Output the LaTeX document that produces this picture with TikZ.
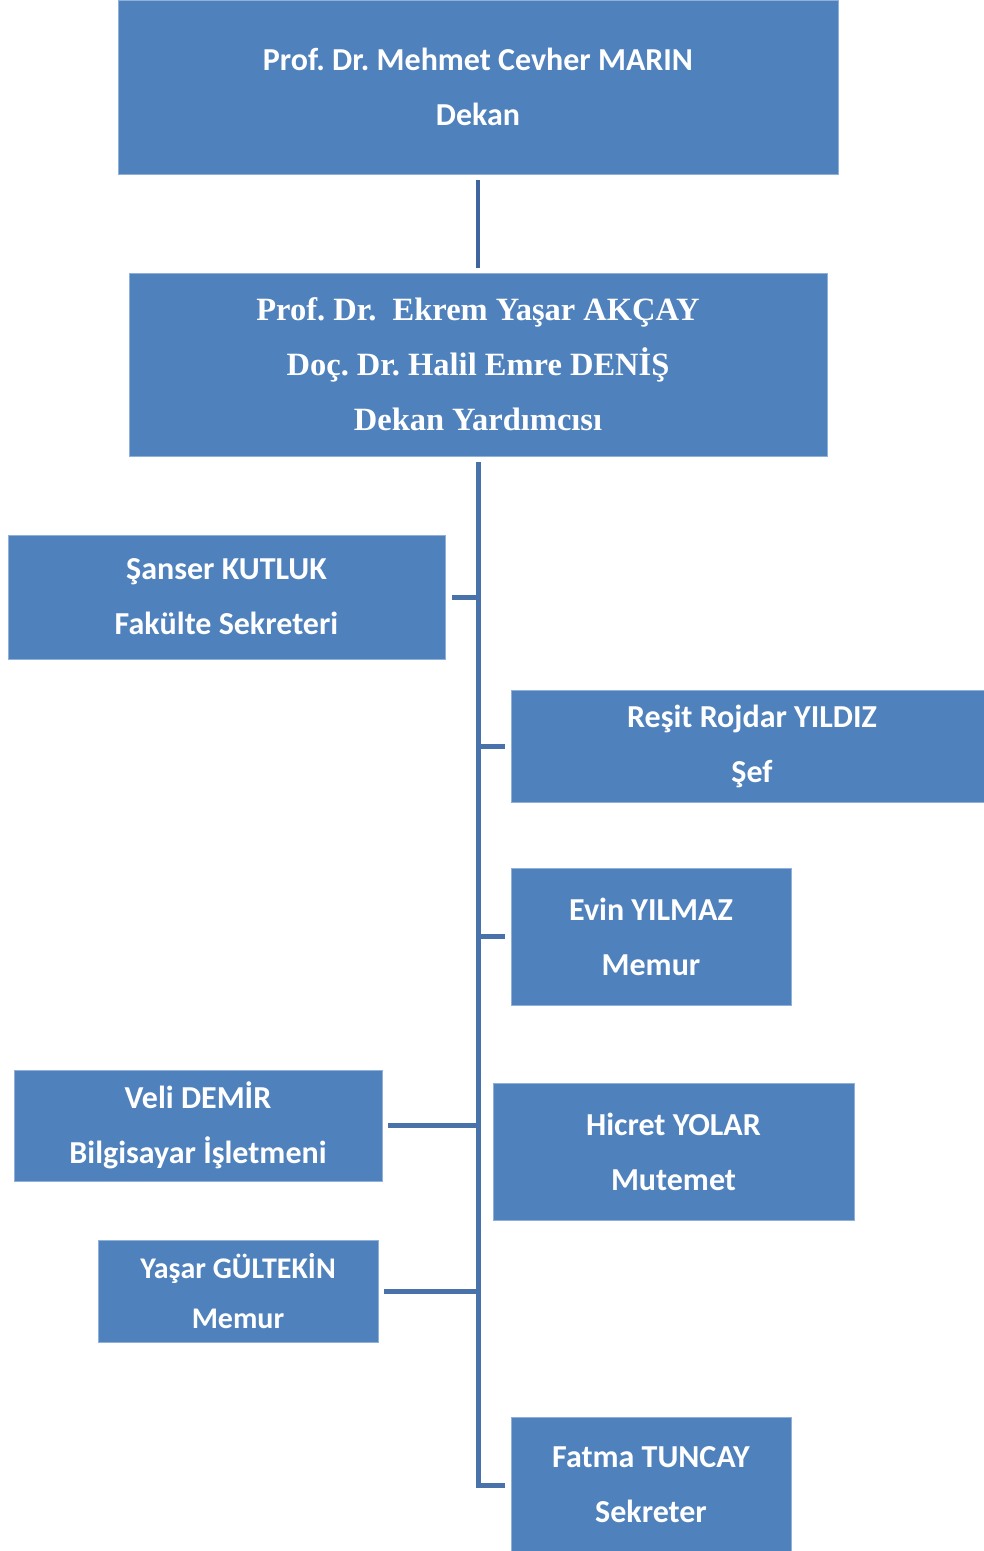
\documentclass[tikz,border=0pt]{standalone}
\usepackage{fontspec}
\setmainfont{Carlito}
\newfontfamily\boxsans{Carlito}
\newfontfamily\boxserif{Liberation Serif}
\definecolor{boxblue}{HTML}{4F81BD}
\definecolor{boxedge}{HTML}{8FB0D8}
\definecolor{trunk}{HTML}{4A72AA}
\definecolor{topline}{HTML}{3F64A0}
\begin{document}
\frenchspacing
\begin{tikzpicture}[x=1pt,y=-1pt,
  box/.style={fill=boxblue, draw=boxedge, line width=0.8pt, text=white, align=center,
    inner sep=0pt, anchor=center},
  sansbig/.style={font=\frenchspacing\boxsans\bfseries\fontsize{32}{55}\selectfont},
  sanssmall/.style={font=\frenchspacing\boxsans\bfseries\fontsize{30}{50}\selectfont},
  serifbig/.style={font=\frenchspacing\boxserif\bfseries\fontsize{32.5}{55}\selectfont},
  conn/.style={draw=trunk, line width=5pt},
  topconn/.style={draw=topline, line width=4pt}]
\useasboundingbox (0,0) rectangle (984,1551);
% boxes
\node[box,sansbig, minimum width=720pt, minimum height=174pt] (dekan) at (478,87) {Prof. Dr. Mehmet Cevher MARIN\\Dekan};
\node[box,serifbig, minimum width=698pt, minimum height=183pt] (yard) at (478,364.5) {Prof. Dr.\ \ Ekrem Yaşar AKÇAY\\Doç. Dr. Halil Emre DENİŞ\\Dekan Yardımcısı};
\node[box,sansbig, minimum width=437pt, minimum height=124pt] (sanser) at (226.5,597) {Şanser KUTLUK\\Fakülte Sekreteri};
\node[box,sansbig, minimum width=482pt, minimum height=112pt] (resit) at (752,746) {Reşit Rojdar YILDIZ\\Şef};
\node[box,sansbig, minimum width=280pt, minimum height=137pt] (evin) at (651,936.5) {Evin YILMAZ\\Memur};
\node[box,sansbig, minimum width=368pt, minimum height=111pt] (veli) at (198,1125.5) {Veli DEMİR\\Bilgisayar İşletmeni};
\node[box,sansbig, minimum width=361pt, minimum height=137pt] (hicret) at (673.5,1151.5) {Hicret YOLAR\\Mutemet};
\node[box,sanssmall, minimum width=280pt, minimum height=102pt] (yasar) at (238,1291) {Yaşar GÜLTEKİN\\Memur};
\node[box,sansbig, minimum width=280pt, minimum height=136pt] (fatma) at (651,1485) {Fatma TUNCAY\\Sekreter};
% connectors
\coordinate (t0) at ([yshift=-6pt]yard.south);
\coordinate (tend) at (478,1485);
\draw[topconn] ([yshift=-6pt]dekan.south) -- ([yshift=5pt]yard.north);
\draw[conn] (t0) -- (tend) -- ([xshift=-6pt]fatma.west);
\draw[conn] ([xshift=7pt]sanser.east) -- (sanser.east -| tend);
\draw[conn] ([xshift=-6pt]resit.west) -- (resit.west -| tend);
\draw[conn] ([xshift=-6pt]evin.west) -- (evin.west -| tend);
\draw[conn] ([xshift=6pt]veli.east) -- (veli.east -| tend);
\draw[conn] ([xshift=6pt]yasar.east) -- (yasar.east -| tend);
\end{tikzpicture}
\end{document}
